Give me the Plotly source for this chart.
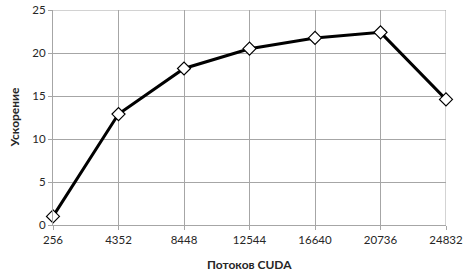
import plotly.graph_objects as go

threads = [256, 4352, 8448, 12544, 16640, 20736, 24832]
speedup = [1.0, 12.9, 18.2, 20.5, 21.75, 22.4, 14.6]
y_ticks = [0, 5, 10, 15, 20, 25]

fig = go.Figure()
fig.add_trace(go.Scatter(
    x=threads, y=speedup, mode="lines+markers",
    line=dict(color="black", width=3),
    marker=dict(symbol="diamond", size=10, color="white",
                line=dict(color="black", width=1.2)),
    showlegend=False, cliponaxis=False,
))

font = "Lato, Liberation Sans, sans-serif"
grid = "#a6a6a6"
fig.update_layout(
    width=465, height=272,
    margin=dict(l=53, r=19, t=10, b=47),
    paper_bgcolor="white", plot_bgcolor="white",
    font=dict(family=font, size=11.5, color="#262626"),
)
fig.update_xaxes(
    range=[threads[0], threads[-1]], tickvals=threads,
    ticktext=[str(t) for t in threads],
    showgrid=True, gridcolor=grid, gridwidth=1,
    showline=True, linecolor=grid, linewidth=1,
    ticks="outside", ticklen=4, tickcolor=grid,
    zeroline=False, automargin=False,
)
fig.update_yaxes(
    range=[0, 25], tickvals=y_ticks,
    showgrid=True, gridcolor=grid, gridwidth=1,
    showline=True, linecolor=grid, linewidth=1,
    ticks="outside", ticklen=4, tickcolor=grid,
    zeroline=False, automargin=False,
)
fig.add_shape(type="line", xref="x", yref="paper", x0=threads[-1], x1=threads[-1],
              y0=0, y1=1, line=dict(color=grid, width=1), layer="below")
fig.add_shape(type="line", xref="paper", yref="y", x0=0, x1=1,
              y0=25, y1=25, line=dict(color=grid, width=1), layer="below")
fig.add_annotation(text="<b>Потоков CUDA</b>", xref="paper", yref="paper",
                   x=0.5, y=0, yshift=-39, showarrow=False,
                   font=dict(size=12, color="#262626"), yanchor="middle")
fig.add_annotation(text="<b>Ускорение</b>", xref="paper", yref="paper",
                   x=0, y=0.5, xshift=-39, textangle=-90, showarrow=False,
                   font=dict(size=12, color="#262626"), xanchor="center")

fig.write_html("out.html", config={"displayModeBar": False},
               post_script="document.body.style.margin='0';document.body.style.overflow='hidden';")
